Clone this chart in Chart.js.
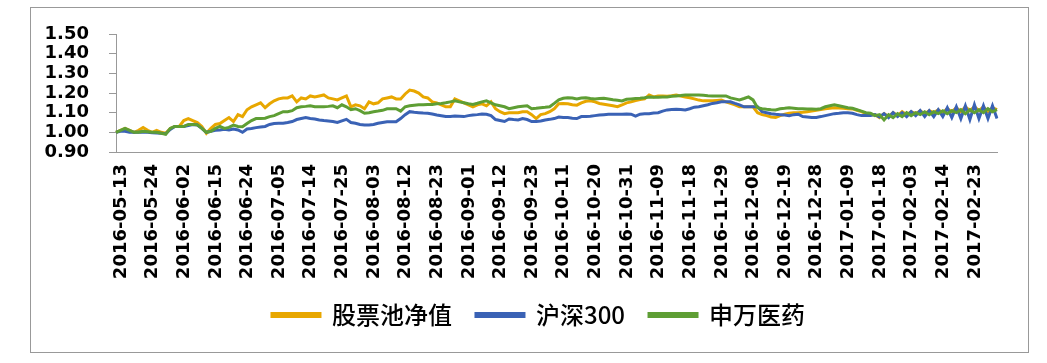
<!DOCTYPE html>
<html>
<head>
<meta charset="utf-8">
<script src="https://cdn.jsdelivr.net/npm/chart.js@4.4.0/dist/chart.umd.min.js"></script>
<style>
  body { margin: 0; background: #fff; }
  #wrap { position: relative; width: 1047px; height: 363px; }
  #frame { position: absolute; left: 30px; top: 7px; width: 997px; height: 344px; border: 1px solid #999; }
  canvas { position: absolute; left: 0; top: 0; }
</style>
</head>
<body>
<div id="wrap">
  <div id="frame"></div>
  <canvas id="chart" width="1047" height="363"></canvas>
</div>
<script>
// trading days 2016-05-13 .. 2017-03-03 (weekends + exchange holidays skipped)
const startDate = "2016-05-13";
const endDate = "2017-03-03";
const holidays = [
  "2016-06-09", "2016-06-10",
  "2016-09-15", "2016-09-16",
  "2016-10-03", "2016-10-04", "2016-10-05", "2016-10-06", "2016-10-07",
  "2017-01-02",
  "2017-01-27", "2017-01-30", "2017-01-31", "2017-02-01", "2017-02-02"
];

const poolNav = [
  1.000,1.010,1.020,1.010,1.000,1.010,1.025,1.010,1.000,1.010,
  1.000,0.995,1.020,1.030,1.030,1.060,1.070,1.060,1.050,1.030,
  0.995,1.020,1.040,1.045,1.060,1.075,1.055,1.090,1.080,1.115,
  1.130,1.140,1.150,1.125,1.145,1.160,1.170,1.175,1.175,1.185,
  1.155,1.175,1.170,1.185,1.180,1.185,1.190,1.175,1.170,1.165,
  1.175,1.185,1.130,1.140,1.135,1.120,1.155,1.145,1.150,1.170,
  1.175,1.180,1.170,1.170,1.195,1.215,1.210,1.200,1.180,1.175,
  1.155,1.150,1.140,1.130,1.130,1.170,1.160,1.150,1.140,1.130,
  1.140,1.145,1.135,1.155,1.120,1.105,1.095,1.100,1.100,1.100,
  1.105,1.105,1.090,1.070,1.090,1.095,1.105,1.120,1.145,1.147,
  1.145,1.140,1.138,1.150,1.158,1.160,1.155,1.147,1.143,1.139,
  1.135,1.130,1.139,1.150,1.155,1.162,1.167,1.170,1.190,1.180,
  1.185,1.185,1.183,1.186,1.190,1.185,1.180,1.176,1.170,1.164,
  1.160,1.160,1.160,1.162,1.164,1.155,1.147,1.140,1.130,1.130,
  1.130,1.130,1.100,1.090,1.085,1.078,1.075,1.085,1.092,1.097,
  1.100,1.100,1.102,1.105,1.108,1.112,1.116,1.120,1.122,1.125,
  1.124,1.122,1.120,1.119,1.112,1.105,1.095,1.090,1.090,1.075,
  1.095,1.080,1.100,1.085,1.105,1.090,1.105,1.095,1.110,1.095,
  1.110,1.100,1.115,1.100,1.120,1.105,1.125,1.105,1.130,1.110,
  1.130,1.110,1.130,1.105,1.125,1.115
];

const hs300 = [
  1.000,1.005,1.005,1.000,1.000,1.000,1.000,1.000,0.998,0.997,
  0.995,0.993,1.015,1.030,1.030,1.030,1.035,1.040,1.037,1.020,
  1.000,1.005,1.010,1.012,1.015,1.012,1.017,1.012,1.000,1.017,
  1.020,1.024,1.027,1.030,1.040,1.045,1.046,1.046,1.050,1.055,
  1.065,1.070,1.075,1.070,1.068,1.063,1.060,1.058,1.055,1.050,
  1.058,1.066,1.050,1.046,1.040,1.037,1.037,1.040,1.046,1.050,
  1.054,1.054,1.054,1.070,1.090,1.105,1.102,1.100,1.098,1.097,
  1.093,1.088,1.084,1.080,1.080,1.083,1.082,1.080,1.085,1.088,
  1.090,1.093,1.092,1.085,1.065,1.060,1.055,1.068,1.065,1.063,
  1.070,1.065,1.055,1.055,1.058,1.063,1.066,1.070,1.078,1.075,
  1.075,1.072,1.070,1.080,1.080,1.082,1.085,1.088,1.090,1.092,
  1.092,1.092,1.092,1.093,1.092,1.082,1.092,1.094,1.095,1.098,
  1.100,1.108,1.114,1.116,1.117,1.116,1.114,1.120,1.128,1.130,
  1.135,1.140,1.147,1.150,1.155,1.155,1.155,1.147,1.140,1.130,
  1.130,1.130,1.130,1.105,1.100,1.095,1.092,1.090,1.088,1.085,
  1.090,1.092,1.080,1.078,1.075,1.076,1.080,1.085,1.090,1.095,
  1.097,1.100,1.100,1.097,1.090,1.085,1.085,1.085,1.090,1.078,
  1.095,1.075,1.100,1.080,1.100,1.080,1.105,1.085,1.110,1.080,
  1.110,1.080,1.115,1.080,1.125,1.075,1.130,1.070,1.135,1.065,
  1.140,1.070,1.135,1.070,1.135,1.070
];

const swPharma = [
  1.000,1.010,1.020,1.010,1.000,1.000,1.005,1.003,1.000,1.000,
  0.995,0.990,1.020,1.030,1.030,1.030,1.040,1.040,1.038,1.020,
  1.000,1.005,1.020,1.030,1.020,1.025,1.037,1.030,1.028,1.045,
  1.060,1.070,1.070,1.072,1.080,1.085,1.095,1.105,1.105,1.110,
  1.125,1.130,1.132,1.135,1.130,1.130,1.130,1.132,1.135,1.125,
  1.140,1.130,1.115,1.120,1.110,1.097,1.100,1.105,1.108,1.112,
  1.120,1.120,1.120,1.108,1.130,1.135,1.138,1.140,1.140,1.142,
  1.142,1.145,1.147,1.150,1.155,1.160,1.155,1.150,1.145,1.142,
  1.148,1.155,1.160,1.150,1.140,1.135,1.130,1.120,1.125,1.130,
  1.133,1.135,1.120,1.122,1.125,1.127,1.130,1.147,1.165,1.173,
  1.176,1.175,1.170,1.175,1.176,1.172,1.170,1.172,1.173,1.170,
  1.166,1.163,1.160,1.168,1.170,1.172,1.173,1.176,1.180,1.178,
  1.178,1.180,1.180,1.183,1.185,1.187,1.190,1.190,1.190,1.190,
  1.188,1.186,1.185,1.185,1.185,1.185,1.175,1.170,1.165,1.172,
  1.180,1.165,1.125,1.120,1.117,1.115,1.114,1.120,1.122,1.125,
  1.123,1.120,1.120,1.119,1.119,1.118,1.120,1.130,1.135,1.140,
  1.135,1.130,1.125,1.122,1.115,1.108,1.100,1.097,1.085,1.090,
  1.063,1.090,1.075,1.095,1.080,1.100,1.085,1.100,1.090,1.105,
  1.090,1.105,1.095,1.110,1.095,1.110,1.100,1.115,1.095,1.115,
  1.100,1.115,1.100,1.120,1.105,1.115
];

const seriesNames = ["股票池净值", "沪深300", "申万医药"];
const seriesColors = ["#E8A700", "#3A62B5", "#5E9E34"];
const labelEvery = 7;

function tradingDays(from, to, skip) {
  const out = [];
  const d = new Date(from + "T00:00:00Z");
  const last = new Date(to + "T00:00:00Z");
  while (d <= last) {
    const s = d.toISOString().slice(0, 10);
    const wd = d.getUTCDay();
    if (wd !== 0 && wd !== 6 && !skip.includes(s)) out.push(s);
    d.setUTCDate(d.getUTCDate() + 1);
  }
  return out;
}

const dates = tradingDays(startDate, endDate, holidays);
const values = [poolNav, hs300, swPharma];

// later series drawn on top, like the original
const datasets = values.map((v, i) => ({
  label: seriesNames[i],
  data: v,
  borderColor: seriesColors[i],
  backgroundColor: seriesColors[i],
  borderWidth: 3,
  pointRadius: 0,
  tension: 0,
  order: 2 - i
}));

// legend in the original sits a bit right of centre
const legendShift = {
  id: "legendShift",
  afterLayout(chart) {
    if (!chart.legend) return;
    chart.legend.left += 40;
    chart.legend.right += 40;
  }
};

new Chart(document.getElementById("chart"), {
  type: "line",
  data: { labels: dates, datasets: datasets },
  plugins: [legendShift],
  options: {
    responsive: false,
    animation: false,
    devicePixelRatio: 1,
    layout: { padding: { left: 0, right: 50, top: 34, bottom: 26 } },
    plugins: {
      tooltip: { enabled: false },
      legend: {
        position: "bottom",
        labels: {
          boxWidth: 48,
          boxHeight: 3,
          padding: 24,
          color: "#000",
          font: { family: "'Noto Sans CJK SC'", size: 24, weight: "500" },
          sort: (a, b) => a.datasetIndex - b.datasetIndex
        }
      }
    },
    scales: {
      x: {
        offset: false,
        grid: { display: false, drawTicks: false },
        border: { display: true, color: "#999" },
        ticks: {
          autoSkip: false,
          minRotation: 90,
          maxRotation: 90,
          padding: 12,
          labelOffset: 5,
          color: "#000",
          font: { family: "'DejaVu Sans'", size: 18, weight: "bold" },
          callback: function (val, idx) {
            return idx % labelEvery === 0 ? this.getLabelForValue(val) : null;
          }
        },
        afterFit: function (s) { s.height = 127; }
      },
      y: {
        min: 0.9,
        max: 1.5,
        grid: { drawOnChartArea: false, color: "#999", tickLength: 7 },
        border: { display: true, color: "#999" },
        ticks: {
          stepSize: 0.1,
          autoSkip: false,
          padding: 20,
          color: "#000",
          font: { family: "'DejaVu Sans'", size: 18, weight: "bold" },
          callback: v => v.toFixed(2)
        },
        afterFit: function (s) { s.width = 116; }
      }
    }
  }
});
</script>
</body>
</html>
